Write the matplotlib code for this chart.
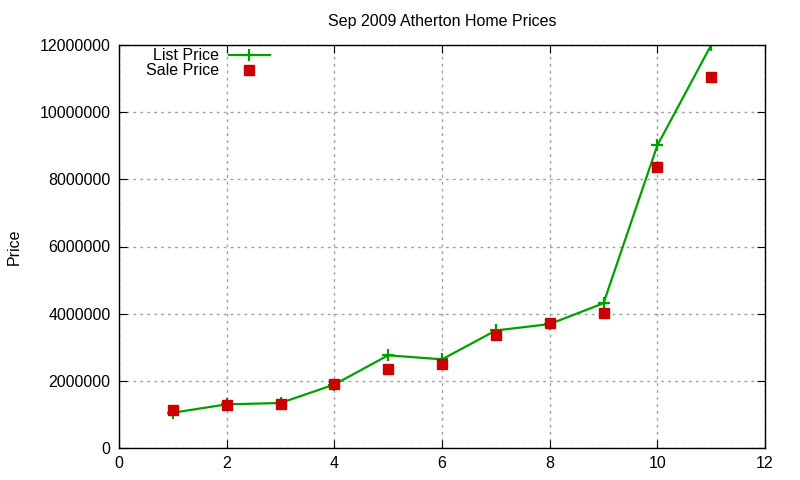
import matplotlib
matplotlib.use('Agg')
import matplotlib.pyplot as plt

# Datos
rank = [1, 2, 3, 4, 5, 6, 7, 8, 9, 10, 11]
list_price = [1050000, 1300000, 1340000, 1890000, 2760000, 2640000,
              3500000, 3690000, 4310000, 9010000, 12000000]
sale_price = [1140000, 1290000, 1310000, 1900000, 2360000, 2500000,
              3370000, 3720000, 4020000, 8380000, 11060000]

plt.rcParams['font.family'] = ['Liberation Sans', 'DejaVu Sans']

fig = plt.figure(figsize=(8, 4.8), dpi=100)
ax = fig.add_axes([119 / 800, 32 / 480, 646 / 800, 403 / 480])

ax.plot(rank, list_price, color='#00a000', linewidth=1.6, marker='+',
        markersize=8, markeredgewidth=1.6, label='List Price')
ax.plot(rank, sale_price, linestyle='none', color='#cc0000', marker='s',
        markersize=6.5, label='Sale Price')

ax.set_xlim(0, 12)
ax.set_ylim(0, 12000000)
ax.set_xticks(range(0, 13, 2))
ax.set_yticks(range(0, 12000001, 2000000))
ax.ticklabel_format(axis='y', style='plain', useOffset=False)

ax.grid(True, color='#a0a0a0', linestyle=(0, (2, 3)), linewidth=1)
ax.tick_params(direction='in', top=True, right=True, length=6,
               labelsize=11.5, pad=6)
for s in ax.spines.values():
    s.set_linewidth(1)

ax.set_title('Sep 2009 Atherton Home Prices', fontsize=11.5, pad=14)
ax.set_ylabel('Price', fontsize=11.5, labelpad=13)

ax.legend(loc='upper left', bbox_to_anchor=(0.027, 1.016), frameon=False,
          markerfirst=False, fontsize=11.5, handlelength=2.6,
          handletextpad=0.6, labelspacing=0.0, borderaxespad=0.2)

fig.savefig('out.png', dpi=100)
